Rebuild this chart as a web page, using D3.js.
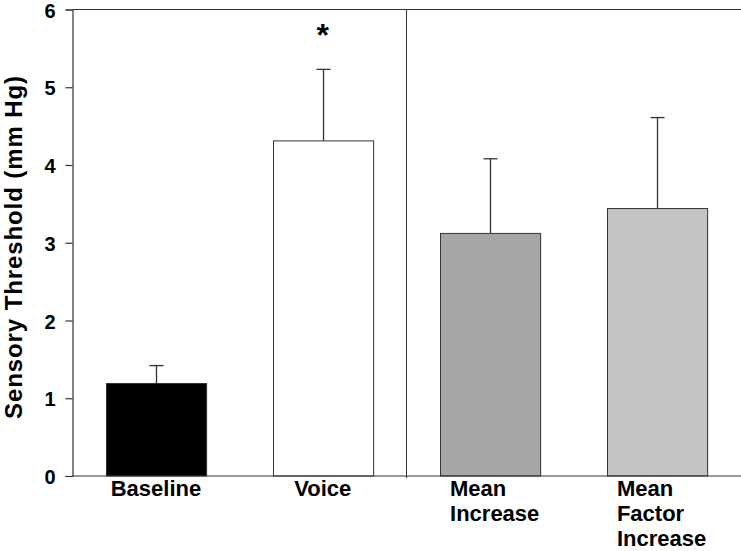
<!DOCTYPE html>
<html><head><meta charset="utf-8">
<script src="https://cdn.jsdelivr.net/npm/d3@7"></script>
<style>body{margin:0;background:#fff;} svg{display:block;font-family:"Liberation Sans",Arial,sans-serif;}</style>
</head><body>
<svg id="c" width="741" height="551"></svg>
<script>
const categories = ["Baseline", "Voice", "Mean Increase", "Mean Factor Increase"];
const labelLines = [["Baseline"], ["Voice"], ["Mean", "Increase"], ["Mean", "Factor", "Increase"]];
const means = [1.19, 4.31, 3.12, 3.44];
const errors = [0.23, 0.92, 0.96, 1.17];
const fills = ["#000000", "#ffffff", "#a6a6a6", "#c4c4c4"];
const yTicks = [0, 1, 2, 3, 4, 5, 6];
const significant = ["Voice"];

(function () {
const svg = d3.select("#c");
const pLeft = 72.5, pRight = 740, pTop = 9.5, pBottom = 476;
const x = d3.scaleBand().domain(categories).range([pLeft, pRight]).paddingInner(0.4).paddingOuter(0.2);
const y = d3.scaleLinear().domain([0, 6]).range([pBottom, pTop]);
const ink = "#333";

// frame top line
svg.append("line").attr("x1", pLeft).attr("x2", 741).attr("y1", pTop).attr("y2", pTop)
  .attr("stroke", ink).attr("stroke-width", 1.2);

// divider between Voice and Mean Increase
const divX = Math.round((x("Voice") + x.bandwidth() + x("Mean Increase")) / 2) + 0.5;
svg.append("line").attr("x1", divX).attr("x2", divX).attr("y1", pTop).attr("y2", pBottom + 2)
  .attr("stroke", ink).attr("stroke-width", 1);

// error bars
const g = svg.append("g");
categories.forEach((c, i) => {
  const cx = Math.round(x(c) + x.bandwidth() / 2) + 0.5;
  g.append("line").attr("x1", cx).attr("x2", cx).attr("y1", y(means[i])).attr("y2", y(means[i] + errors[i]))
    .attr("stroke", ink).attr("stroke-width", 1.3);
  g.append("line").attr("x1", cx - 7).attr("x2", cx + 7).attr("y1", y(means[i] + errors[i])).attr("y2", y(means[i] + errors[i]))
    .attr("stroke", ink).attr("stroke-width", 1.3);
});

// bars
svg.append("g").selectAll("rect").data(categories).join("rect")
  .attr("x", d => Math.round(x(d)) + 0.5)
  .attr("width", x.bandwidth())
  .attr("y", (d, i) => y(means[i]))
  .attr("height", (d, i) => y(0) - y(means[i]))
  .attr("fill", (d, i) => fills[i])
  .attr("stroke", ink).attr("stroke-width", 1);

// x axis line
svg.append("line").attr("x1", pLeft).attr("x2", 741).attr("y1", pBottom).attr("y2", pBottom)
  .attr("stroke", ink).attr("stroke-width", 1.2);

// y axis
const ya = svg.append("g").attr("transform", `translate(${pLeft},0)`)
  .call(d3.axisLeft(y).tickValues(yTicks).tickFormat(d3.format("d")).tickSize(7).tickPadding(10));
ya.attr("font-size", null).attr("font-family", null);
ya.select(".domain").attr("stroke", ink).attr("stroke-width", 1.2);
ya.selectAll(".tick line").attr("stroke", ink).attr("stroke-width", 1.2);
ya.selectAll(".tick text").style("font-size", "20px").style("font-weight", "bold").attr("fill", "#000")
  .attr("dy", "0.38em");

// y label
svg.append("text").attr("transform", "translate(22,247) rotate(-90)")
  .attr("text-anchor", "middle").style("font-size", "24px").style("font-weight", "bold")
  .style("letter-spacing", "0.9px").attr("fill", "#000")
  .text("Sensory Threshold (mm Hg)");

// x labels
categories.forEach((c, i) => {
  const cx = x(c) + x.bandwidth() / 2;
  const lines = labelLines[i];
  const t = svg.append("text").style("font-size", "22px").style("font-weight", "bold").attr("fill", "#000");
  lines.forEach((l, j) => t.append("tspan").attr("y", 496 + j * 25).text(l));
  if (lines.length === 1) {
    t.attr("text-anchor", "middle").selectAll("tspan").attr("x", cx);
  } else {
    let w = 0;
    t.selectAll("tspan").each(function () { w = Math.max(w, this.getComputedTextLength()); });
    t.selectAll("tspan").attr("x", cx - w / 2 + 5);
  }
});

// significance asterisk
significant.forEach(c => {
  const cx = x(c) + x.bandwidth() / 2;
  svg.append("text").attr("x", cx).attr("y", 46).attr("text-anchor", "middle")
    .style("font-size", "32px").style("font-weight", "bold").attr("fill", "#000").text("*");
});
})();
</script>
</body></html>
